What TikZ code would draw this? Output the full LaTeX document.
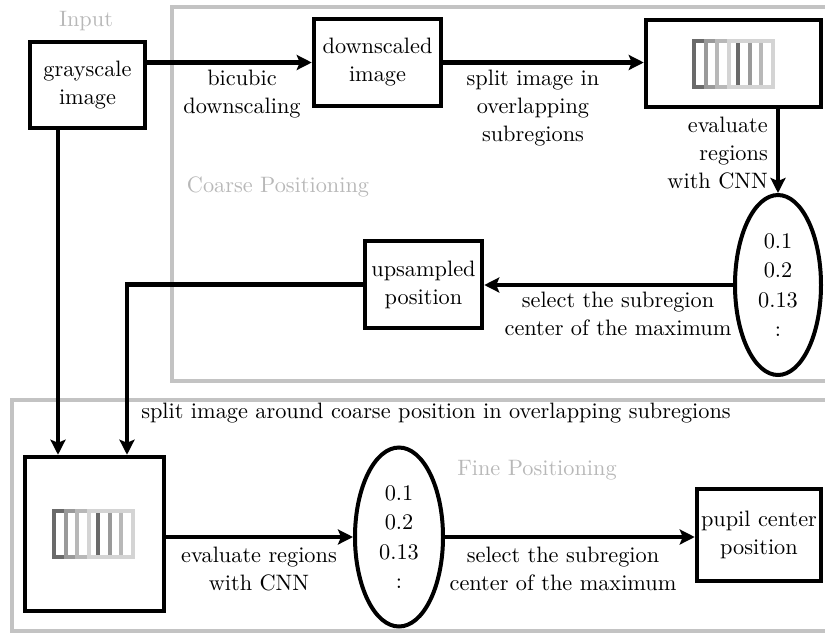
\documentclass[tikz,border=0pt]{standalone}
\usepackage{fontspec}
\setmainfont{lmroman10-regular}[Extension=.otf,BoldFont=lmroman10-bold,ItalicFont=lmroman10-italic]
\usetikzlibrary{shapes.geometric,arrows.meta,calc}
\definecolor{framegray}{HTML}{C3C3C3}
\definecolor{labelgray}{HTML}{B8B8B8}
\definecolor{icA}{HTML}{6A6A6A}
\definecolor{icB}{HTML}{9A9A9A}
\definecolor{icC}{HTML}{B8B8B8}
\definecolor{icD}{HTML}{D4D4D4}
\newcommand\txtfont{\rmfamily\fontsize{22.3}{28}\selectfont}
\newcommand\ovalfont{\rmfamily\fontsize{22.3}{29.5}\selectfont}
\begin{document}
\begin{tikzpicture}[x=1pt,y=-1pt,
  box/.style={draw,line width=4.5pt,inner sep=0pt,align=center,font=\txtfont},
  oval/.style={draw,ellipse,line width=4pt,inner sep=0pt,align=center,font=\ovalfont},
  arr/.style={line width=4.5pt,-{Stealth[length=15pt,width=15pt,inset=3pt]}},
  lbl/.style={inner sep=0pt,align=center,font=\txtfont},
  region/.style={draw=framegray,line width=4pt},
  regionlbl/.style={inner sep=0pt,text=labelgray,font=\txtfont},
  iconrect/.style={line width=4pt}
]
\useasboundingbox (0,0) rectangle (825,633);
\clip (0,0) rectangle (825,633);

% region frames
\draw[region] (172,7) rectangle (900,381);
\draw[region] (12,400) rectangle (900,631);

% boxes
\node[box,minimum width=115pt,minimum height=86pt] (gray) at (87.5,85) {grayscale\\image};
\node[box,minimum width=127pt,minimum height=87pt] (down) at (377.5,62.5) {downscaled\\image};
\node[box,minimum width=175pt,minimum height=87pt] (cnna) at (733.5,63.5) {};
\node[oval,minimum width=86pt,minimum height=180pt] (ella) at (778,285) {0.1\\0.2\\0.13\\:};
\node[box,minimum width=117pt,minimum height=87pt] (up) at (423.5,284.5) {upsampled\\position};
\node[box,minimum width=139pt,minimum height=154pt] (cnnb) at (94.5,534) {};
\node[oval,minimum width=88pt,minimum height=179pt] (ellb) at (399,537) {0.1\\0.2\\0.13\\:};
\node[box,minimum width=124pt,minimum height=92pt] (pupil) at (759,535) {pupil center\\position};

% icons
\foreach \c/\i in {icA/0,icB/1,icC/2,icD/3}{
  \draw[iconrect,draw=\c] ($(cnna.center)+(-39.5+11.67*\i,-23)$) rectangle ++(44,46);
  \draw[iconrect,draw=\c] ($(cnnb.center)+(-40.5+11.67*\i,-23)$) rectangle ++(44,46);
}

% connectors
\path (cnnb.north) ++(32.5,0) coordinate (dropb);
\path (cnnb.north) ++(-36.5,0) coordinate (dropa);
\draw[arr] (gray.east |- down.west) -- (down.west);
\draw[arr] (down.east) -- (down.east -| cnna.west);
\draw[arr] (cnna.south -| ella.north) -- (ella.north);
\draw[arr] (ella.west) -- (ella.west -| up.east);
\draw[arr] (up.west) -| (dropb);
\draw[arr] (dropa |- gray.south) -- (dropa);
\draw[arr] (cnnb.east |- ellb.west) -- (ellb.west);
\draw[arr] (ellb.east) -- (ellb.east -| pupil.west);

% labels
\node[lbl] (l1) at (242,94) {bicubic\\downscaling};
\node[lbl] (l2) at (533,108) {split image in\\overlapping\\subregions};
\node[lbl,align=right,anchor=east] (l3) at (768,153) {evaluate\\regions\\with CNN};
\node[lbl] (l4) at (618,314) {select the subregion\\center of the maximum};
\node[lbl] (l5) at (436,413) {split image around coarse position in overlapping subregions};
\node[lbl] (l6) at (259,569) {evaluate regions\\with CNN};
\node[lbl] (l7) at (563,569) {select the subregion\\center of the maximum};
\node[regionlbl] (t1) at (86,21) {Input};
\node[regionlbl] (t2) at (278,187) {Coarse Positioning};
\node[regionlbl] (t3) at (537,470) {Fine Positioning};
\end{tikzpicture}
\end{document}
